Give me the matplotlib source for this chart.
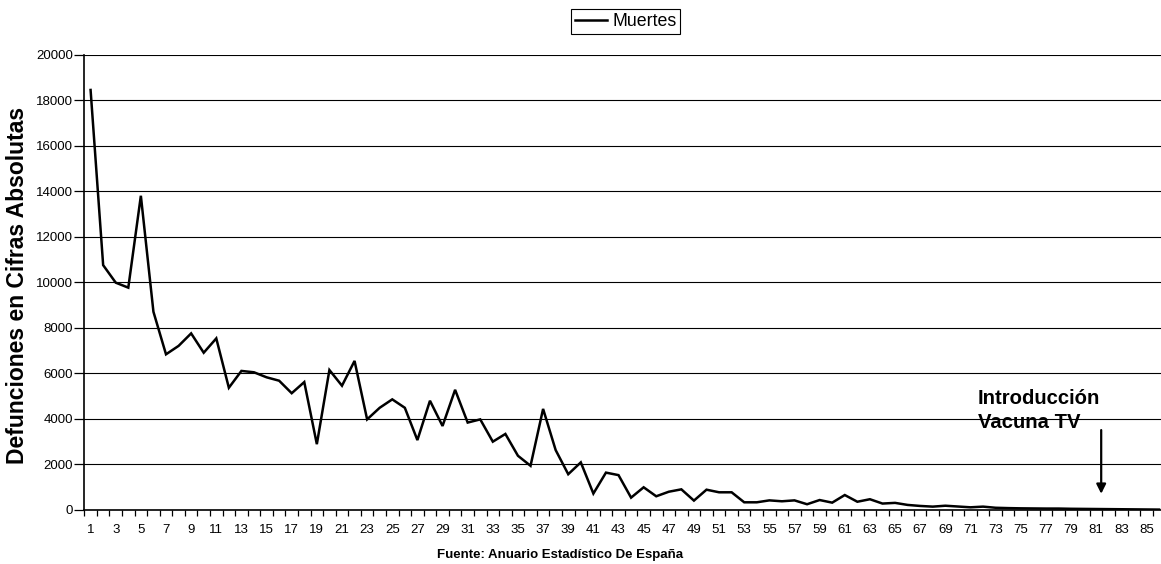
import numpy as np
import matplotlib.pyplot as plt

plt.rcParams['font.family'] = ['Liberation Sans', 'DejaVu Sans']

# deaths per year of the series (1 .. 86)
years = np.arange(1, 87)
deaths = [
    18450, 10750, 9980, 9760, 13800, 8700, 6830, 7200, 7750, 6900,
    7530, 5360, 6100, 6040, 5820, 5670, 5120, 5610, 2880, 6140,
    5450, 6540, 3970, 4480, 4850, 4480, 3060, 4790, 3680, 5270,
    3830, 3970, 2990, 3330, 2370, 1930, 4430, 2620, 1560, 2080,
    710, 1630, 1520, 530, 985, 590, 790, 895, 400, 880,
    765, 765, 325, 325, 410, 370, 410, 240, 425, 310,
    645, 350, 460, 270, 300, 210, 165, 135, 175, 140,
    105, 135, 85, 70, 60, 55, 50, 50, 40, 35,
    30, 25, 20, 15, 10, 5,
]
y_ticks = np.arange(0, 20001, 2000)
x_labels = [str(n) if n % 2 == 1 else '' for n in years]

vaccine_year = 81.4
arrow_top, arrow_tip = 3500, 700

W, H = 1161, 564
fig = plt.figure(figsize=(W / 100, H / 100), dpi=100)
ax = fig.add_axes([84.3 / W, 1 - 509.7 / H, 1081 / W, 455 / H])

line, = ax.plot(years, deaths, color='black', lw=1.8, solid_joinstyle='miter', label='Muertes')

ax.set_xlim(0.5, 86.5)
ax.set_ylim(0, 20000)

# category boundaries carry the ticks, labels sit on the categories
ax.set_xticks(np.arange(0.5, 87, 1))
ax.set_xticklabels([])
ax.set_xticks(years, minor=True)
ax.set_xticklabels(x_labels, minor=True, fontsize=9.5)
ax.tick_params(axis='x', which='major', direction='out', length=4, width=0.9, color='black')
ax.tick_params(axis='x', which='minor', length=0, pad=10.5)

ax.set_yticks(y_ticks)
ax.set_yticklabels([str(v) for v in y_ticks], fontsize=9.5)
ax.tick_params(axis='y', direction='out', length=7, width=0.9, pad=1)
ax.yaxis.grid(True, color='black', lw=0.8)
ax.set_axisbelow(True)

for side in ('top', 'right'):
    ax.spines[side].set_visible(False)
for side in ('left', 'bottom'):
    ax.spines[side].set_linewidth(1.2)
    ax.spines[side].set_color('black')

ax.annotate('', xy=(vaccine_year, arrow_tip), xytext=(vaccine_year, arrow_top),
            arrowprops=dict(arrowstyle='-|>', color='black', lw=1.6,
                            mutation_scale=14, shrinkA=0, shrinkB=0))
ax.text(71.6, 5300, 'Introducción\nVacuna TV', fontsize=14.6, fontweight='bold',
        ha='left', va='top', linespacing=1.3)

fig.text(18 / W, 1 - 285 / H, 'Defunciones en Cifras Absolutas', rotation=90,
         fontsize=16.5, fontweight='bold', ha='center', va='center')
fig.text(560 / W, 1 - 555 / H, 'Fuente: Anuario Estadístico De España',
         fontsize=9.5, fontweight='bold', ha='center', va='center')

leg = fig.legend(handles=[line], loc='center', bbox_to_anchor=(625.5 / W, 1 - 21.3 / H),
                 fontsize=12.8, frameon=True, fancybox=False, framealpha=1,
                 edgecolor='black', handlelength=1.8, handletextpad=0.3,
                 borderpad=0.22, borderaxespad=0)
leg.get_frame().set_linewidth(0.8)

fig.savefig('out.png', dpi=100)
